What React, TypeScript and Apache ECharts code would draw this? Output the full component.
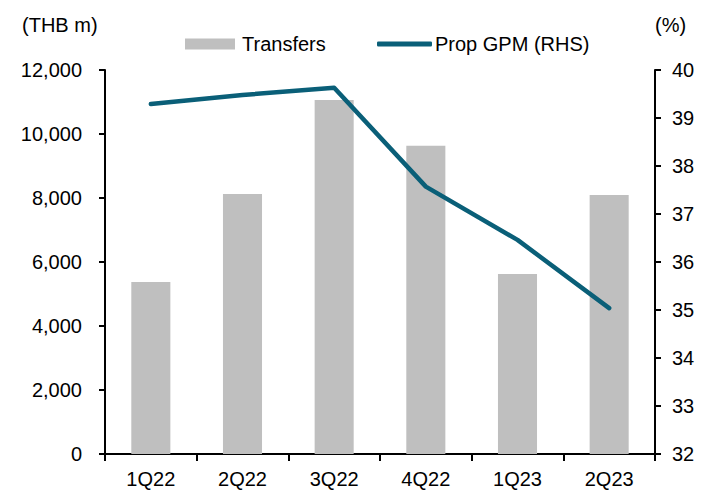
import React, { useEffect, useRef } from "react";
import * as echarts from "echarts";

const categories = ["1Q22", "2Q22", "3Q22", "4Q22", "1Q23", "2Q23"];
const transfers = [5375, 8125, 11060, 9635, 5625, 8095];
const propGpm = [39.29, 39.48, 39.63, 37.57, 36.46, 35.04];
const leftTicks = { min: 0, max: 12000, interval: 2000 };
const rightTicks = { min: 32, max: 40, interval: 1 };

const FONT = "'Liberation Sans', Arial, sans-serif";
const LINE_COLOR = "#0a5f78";

export default function App() {
  const ref = useRef<HTMLDivElement>(null);
  useEffect(() => {
    if (!ref.current) return;
    const chart = echarts.init(ref.current, null, { renderer: "svg" });
    chart.setOption({
      animation: false,
      backgroundColor: "#ffffff",
      textStyle: { fontFamily: FONT },
      grid: { left: 105, right: 55, top: 70, bottom: 41 },
      legend: [
        {
          left: 185,
          top: 34,
          padding: 0,
          itemWidth: 50,
          itemHeight: 11,
          textStyle: { fontFamily: FONT, fontSize: 20, lineHeight: 20, color: "#000", padding: [0, 0, 0, 2] },
          data: [{ name: "Transfers", icon: "rect" }],
        },
        {
          left: 377,
          top: 34,
          padding: 0,
          itemWidth: 55,
          itemHeight: 5,
          textStyle: { fontFamily: FONT, fontSize: 20, lineHeight: 20, color: "#000", padding: [0, 0, 0, -2] },
          data: [{ name: "Prop GPM (RHS)", icon: "roundRect" }],
        },
      ],
      graphic: [
        { type: "text", left: 22, top: 15, style: { text: "(THB m)", font: `20px ${FONT}`, fill: "#000" } },
        { type: "text", left: 655, top: 15, style: { text: "(%)", font: `20px ${FONT}`, fill: "#000" } },
      ],
      xAxis: {
        type: "category",
        data: categories,
        axisLine: { lineStyle: { color: "#000", width: 2 } },
        axisTick: { show: true, length: 7, lineStyle: { color: "#000", width: 2 } },
        axisLabel: { color: "#000", fontSize: 20, fontFamily: FONT, margin: 15 },
      },
      yAxis: [
        {
          type: "value",
          ...leftTicks,
          position: "left",
          axisLine: { show: true, lineStyle: { color: "#000", width: 2 } },
          axisTick: { show: true, length: 6, lineStyle: { color: "#000", width: 2 } },
          splitLine: { show: false },
          axisLabel: {
            color: "#000",
            fontSize: 20,
            fontFamily: FONT,
            margin: 23,
            formatter: (v: number) => v.toLocaleString("en-US"),
          },
        },
        {
          type: "value",
          ...rightTicks,
          position: "right",
          axisLine: { show: true, lineStyle: { color: "#000", width: 2 } },
          axisTick: { show: true, length: 6, lineStyle: { color: "#000", width: 2 } },
          splitLine: { show: false },
          axisLabel: { color: "#000", fontSize: 20, fontFamily: FONT, margin: 17 },
        },
      ],
      series: [
        {
          name: "Transfers",
          type: "bar",
          data: transfers,
          barWidth: "42.6%",
          itemStyle: { color: "#bfbfbf" },
        },
        {
          name: "Prop GPM (RHS)",
          type: "line",
          yAxisIndex: 1,
          data: propGpm,
          symbol: "none",
          lineStyle: { color: LINE_COLOR, width: 4.5, cap: "round", join: "round" },
          itemStyle: { color: LINE_COLOR },
        },
      ],
    });
    return () => chart.dispose();
  }, []);
  return <div ref={ref} style={{ position: "absolute", left: 0, top: 0, width: 710, height: 495 }} />;
}
